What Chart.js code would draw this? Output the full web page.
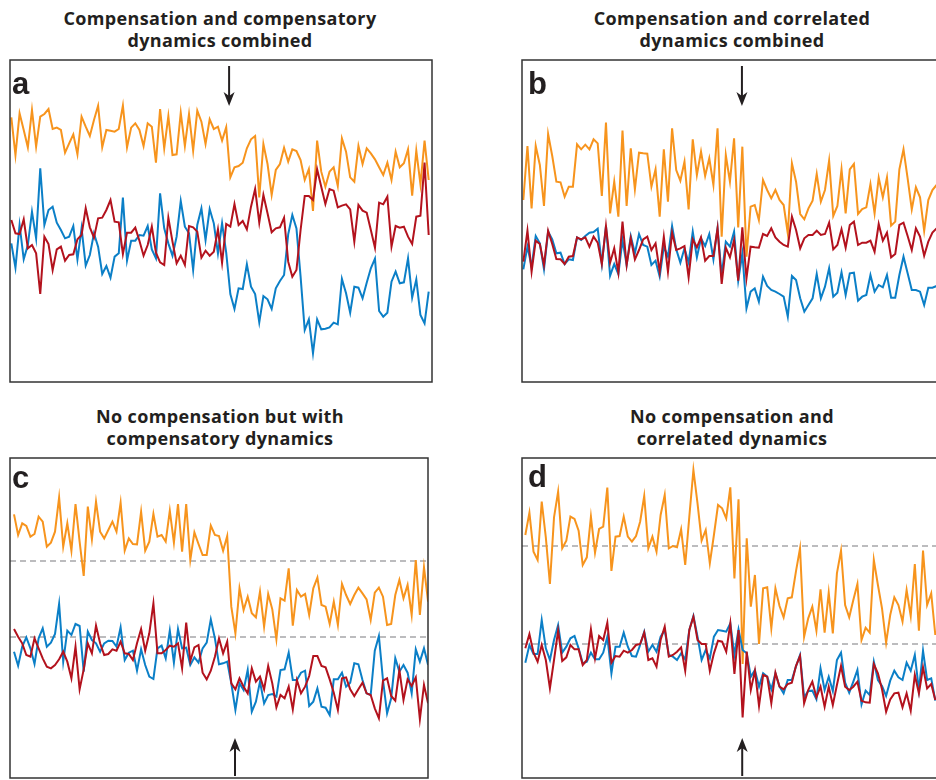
<!DOCTYPE html>
<html>
<head>
<meta charset="utf-8">
<script src="https://cdn.jsdelivr.net/npm/chart.js@4.4.1/dist/chart.umd.min.js"></script>
<style>
  html, body { margin: 0; padding: 0; background: #fff; width: 936px; height: 780px; overflow: hidden; }
  body { position: relative; font-family: "Open Sans", "Noto Sans", sans-serif; }
  .title { position: absolute; width: 440px; text-align: center; font-weight: 700; font-size: 18px; letter-spacing: 0.35px; line-height: 22px; color: #231f20; }
  .letter { position: absolute; font-family: "Liberation Sans", Arial, sans-serif; font-weight: 700; font-size: 31px; line-height: 1; color: #231f20; }
  canvas { position: absolute; }
</style>
</head>
<body>
<div class="title" style="left:0px;top:7px">Compensation and compensatory<br>dynamics combined</div>
<div class="title" style="left:512px;top:7px">Compensation and correlated<br>dynamics combined</div>
<div class="title" style="left:0px;top:405px">No compensation but with<br>compensatory dynamics</div>
<div class="title" style="left:512px;top:405px">No compensation and<br>correlated dynamics</div>

<canvas id="chartA" width="426" height="326" style="left:8px;top:58px"></canvas>
<canvas id="chartB" width="426" height="326" style="left:520px;top:58px"></canvas>
<canvas id="chartC" width="422" height="324" style="left:8px;top:456px"></canvas>
<canvas id="chartD" width="424" height="324" style="left:520px;top:456px"></canvas>

<span class="letter" style="left:12px;top:68px">a</span>
<span class="letter" style="left:528px;top:68px">b</span>
<span class="letter" style="left:12px;top:462px">c</span>
<span class="letter" style="left:528px;top:461px">d</span>

<script>
// ---------- DATA (arbitrary abundance units) ----------
const timeSteps = Array.from({ length: 102 }, (_, i) => i);

// Panel a: compensation and compensatory dynamics combined
const aOrange = [918,805,930,880,828,940,830,920,928,943,883,887,880,812,840,867,807,920,890,862,910,953,828,880,878,875,883,953,828,887,900,880,832,900,890,782,943,825,922,805,807,932,832,928,818,938,905,838,912,883,890,848,888,738,768,772,782,825,852,862,678,838,778,685,760,778,827,785,822,817,790,730,763,637,848,755,710,755,768,712,855,815,738,725,832,778,825,810,792,768,745,782,730,815,768,780,822,683,818,717,848,730];
const aBlue = [540,467,595,492,535,635,555,765,595,640,650,602,580,555,560,592,492,585,473,505,570,530,448,472,437,500,510,677,488,548,548,565,563,592,522,495,690,585,540,503,560,667,590,570,460,595,645,550,643,600,510,600,512,388,343,405,403,477,410,388,303,382,372,343,405,427,445,567,625,585,440,280,312,210,312,282,284,288,302,297,433,390,332,410,407,375,422,465,494,337,320,332,425,455,420,423,495,377,432,325,300,395];
const aRed = [610,570,568,612,525,535,510,388,560,538,460,522,530,488,505,507,552,565,645,588,557,615,617,640,670,605,603,508,572,572,587,548,503,535,590,512,483,475,617,545,480,503,475,592,588,575,497,518,503,515,582,482,598,590,658,595,607,582,650,703,602,685,630,573,585,588,617,485,440,460,580,682,682,670,762,710,658,703,698,648,653,657,642,545,655,638,632,580,527,662,657,680,530,592,587,590,560,538,620,623,782,565];

// Panel b: compensation and correlated dynamics combined
const bOrange = [730,892,705,892,835,712,928,862,785,783,740,770,770,897,882,896,882,912,900,742,962,690,785,680,938,712,885,762,872,870,869,770,822,680,882,725,945,820,788,845,702,912,805,875,802,855,775,945,620,865,785,915,648,890,560,710,715,670,790,760,735,760,730,715,630,840,785,688,672,705,728,808,725,760,848,682,712,822,690,822,838,688,703,708,778,690,797,738,798,653,665,822,882,795,702,768,738,637,730,760,775];
const bBlue = [522,590,530,622,600,522,635,612,570,572,538,552,550,618,610,622,632,634,644,538,652,503,538,508,610,535,622,570,628,595,590,535,548,500,590,560,652,582,542,585,542,635,558,615,592,628,552,645,505,605,590,635,488,570,405,455,465,425,500,472,460,455,448,440,380,502,490,435,395,415,435,508,435,470,525,440,452,513,445,510,512,428,440,445,505,455,475,468,505,437,437,505,560,510,460,460,455,415,467,467,472];
const bRed = [545,638,515,608,598,535,638,598,553,552,538,560,562,618,612,618,590,620,602,538,652,542,585,512,665,535,615,552,580,612,620,580,600,515,620,515,632,580,585,592,498,612,588,618,548,562,562,645,478,587,558,610,488,648,495,590,588,587,628,622,645,618,605,595,590,680,640,585,615,625,625,638,625,628,662,582,595,642,587,655,665,595,602,602,608,575,658,608,632,558,568,655,662,622,580,645,620,563,605,632,645];

// Panel c: no compensation but with compensatory dynamics
const cOrange = [897,835,870,862,830,838,890,875,800,812,845,948,800,870,788,928,815,712,920,822,935,845,825,850,875,845,932,788,825,808,807,905,788,815,898,830,835,815,908,812,928,785,928,760,843,808,775,775,863,835,832,788,832,620,540,675,610,650,600,588,665,560,658,612,522,645,638,735,563,670,650,658,595,675,707,625,620,568,635,565,688,655,628,655,677,660,642,580,662,677,650,565,568,655,700,645,685,595,760,595,738,635];
const cBlue = [485,443,500,528,495,448,525,555,500,512,538,628,455,548,535,568,562,425,545,520,510,485,510,518,517,500,558,460,482,488,428,492,445,410,403,495,503,465,548,452,553,495,497,445,468,452,495,512,582,525,447,450,455,390,310,390,370,430,305,335,395,330,355,358,350,430,432,482,400,400,422,428,322,335,375,320,317,295,402,402,422,380,392,450,447,400,360,355,488,532,400,300,345,465,425,445,422,360,492,455,495,445];
const cRed = [553,530,510,475,470,525,495,465,440,435,445,462,485,455,405,500,372,432,510,480,563,510,475,478,492,488,515,480,478,460,510,553,488,540,630,480,480,490,503,500,510,435,572,457,498,505,422,402,428,470,525,480,515,390,372,405,380,360,435,395,410,372,442,390,318,355,345,380,312,400,360,380,412,472,472,442,438,402,362,310,405,408,372,352,372,392,360,355,315,285,398,405,352,338,430,340,402,382,408,282,385,330];
const cMeanLevels = [757, 529];

// Panel d: no compensation and correlated dynamics
const dOrange = [775,842,725,700,875,768,628,828,905,735,758,830,823,788,685,708,830,722,793,800,917,667,770,772,830,770,755,772,815,892,735,770,725,835,895,735,742,738,792,685,830,970,870,758,790,690,775,865,855,825,918,645,882,388,765,560,655,448,615,618,495,615,562,528,585,588,665,735,470,525,560,488,612,482,602,480,660,728,565,528,580,628,460,497,482,700,625,555,452,535,588,565,515,610,532,688,488,728,565,600,475];
const dBlue = [392,445,418,418,520,435,400,460,505,422,440,465,472,435,390,395,422,402,402,422,470,360,440,440,482,440,412,410,445,485,425,445,425,470,490,415,410,400,420,402,490,532,470,400,430,405,470,490,488,485,510,415,492,430,420,350,370,320,360,350,312,360,320,300,340,340,380,415,288,307,308,282,375,310,350,307,400,422,332,302,335,370,267,308,295,395,340,322,292,338,368,348,340,392,368,415,310,428,340,345,278];
const dRed = [435,478,422,395,445,400,315,400,488,397,408,445,432,432,385,400,492,405,472,460,512,392,412,410,428,422,430,445,448,482,400,405,380,460,500,410,415,425,438,368,490,530,460,448,448,368,420,458,455,425,510,358,490,228,425,310,368,262,355,350,270,362,320,312,328,332,382,412,270,310,335,288,320,260,320,265,325,382,320,310,320,335,278,273,272,388,360,312,245,282,300,302,258,300,248,355,300,378,315,328,280];
const dMeanLevels = [742, 448];

// Time step at which the perturbation (arrow) occurs in each panel
const changePoints = { a: 52.7, b: 52.9, c: 53.9, d: 52.9 };

// ---------- STYLE ----------
const ORANGE = '#f7941d';
const BLUE = '#0b7fc7';
const RED = '#b3121d';
const INK = '#231f20';

const panelDecor = {
  id: 'panelDecor',
  beforeDatasetsDraw(chart, args, opts) {
    const { ctx, chartArea: area, scales } = chart;
    (opts.levels || []).forEach(v => {
      const y = scales.y.getPixelForValue(v);
      ctx.save();
      ctx.strokeStyle = '#a7a7a9';
      ctx.lineWidth = 1.6;
      ctx.setLineDash([6, 4]);
      ctx.beginPath();
      ctx.moveTo(area.left, y);
      ctx.lineTo(area.right, y);
      ctx.stroke();
      ctx.restore();
    });
  },
  afterDraw(chart, args, opts) {
    const { ctx, chartArea: area, scales } = chart;
    ctx.save();
    // frame
    ctx.strokeStyle = '#333';
    ctx.lineWidth = 1.5;
    ctx.strokeRect(area.left, area.top, area.right - area.left, area.bottom - area.top);
    // arrow
    const x = scales.x.getPixelForValue(opts.arrowAt);
    const down = opts.arrowDir === 'down';
    const tail = down ? area.top + 6 : area.bottom - 2;
    const tip = down ? area.top + 46 : area.bottom - 40;
    const s = down ? 1 : -1;
    ctx.strokeStyle = INK;
    ctx.fillStyle = INK;
    ctx.lineWidth = 2;
    ctx.beginPath();
    ctx.moveTo(x, tail);
    ctx.lineTo(x, tip - s * 8);
    ctx.stroke();
    ctx.beginPath();
    ctx.moveTo(x, tip);
    ctx.lineTo(x - 5.5, tip - s * 14);
    ctx.lineTo(x, tip - s * 10);
    ctx.lineTo(x + 5.5, tip - s * 14);
    ctx.closePath();
    ctx.fill();
    ctx.restore();
  }
};

function makePanel(id, p) {
  const series = [
    { data: p.red, borderColor: RED },
    { data: p.blue, borderColor: BLUE },
    { data: p.orange, borderColor: ORANGE }
  ].map(d => Object.assign(d, { borderWidth: 2, pointRadius: 0, tension: 0, fill: false }));
  new Chart(document.getElementById(id), {
    type: 'line',
    data: { labels: timeSteps, datasets: series },
    options: {
      responsive: false,
      animation: false,
      events: [],
      layout: { padding: 2 },
      scales: {
        x: { type: 'linear', display: false, min: p.xMin, max: p.xMax },
        y: { display: false, min: p.yMin, max: p.yMax }
      },
      plugins: {
        legend: { display: false },
        tooltip: { enabled: false },
        panelDecor: { levels: p.levels || [], arrowAt: p.arrowAt, arrowDir: p.arrowDir }
      }
    },
    plugins: [panelDecor]
  });
}

makePanel('chartA', { orange: aOrange, blue: aBlue, red: aRed, xMin: -0.32, xMax: 101.8, yMin: 124, yMax: 1090, arrowAt: changePoints.a, arrowDir: 'down' });
makePanel('chartB', { orange: bOrange, blue: bBlue, red: bRed, xMin: -0.32, xMax: 101.8, yMin: 184, yMax: 1150, arrowAt: changePoints.b, arrowDir: 'down' });
makePanel('chartC', { orange: cOrange, blue: cBlue, red: cRed, xMin: -0.98, xMax: 100.98, yMin: 106, yMax: 1066, levels: cMeanLevels, arrowAt: changePoints.c, arrowDir: 'up' });
makePanel('chartD', { orange: dOrange, blue: dBlue, red: dRed, xMin: -0.81, xMax: 101.63, yMin: 46, yMax: 1006, levels: dMeanLevels, arrowAt: changePoints.d, arrowDir: 'up' });
</script>
</body>
</html>
